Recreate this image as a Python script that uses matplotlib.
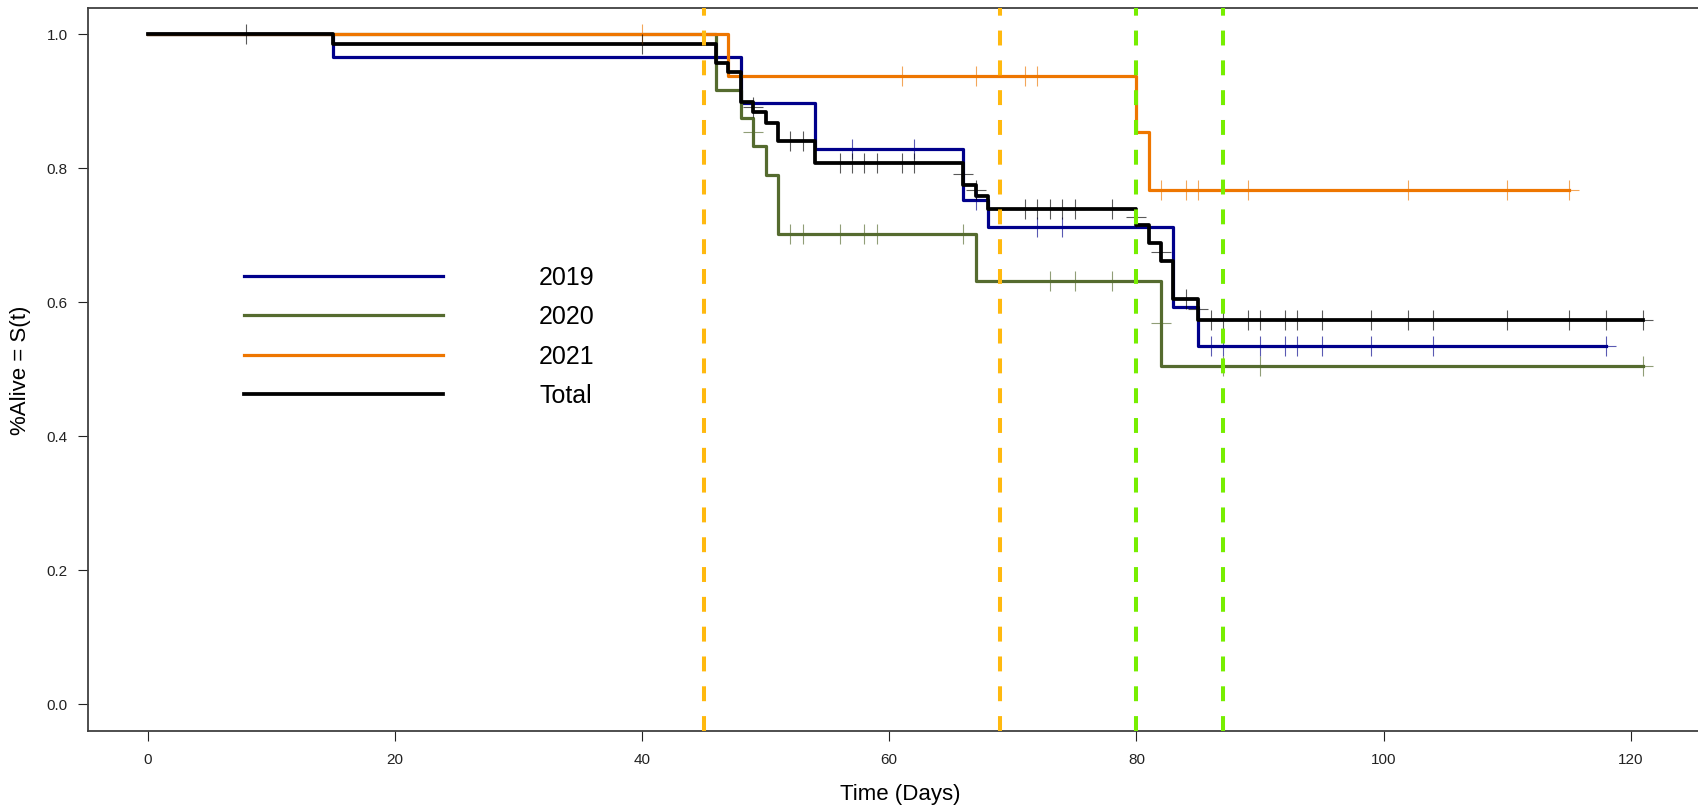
import numpy as np
import matplotlib
matplotlib.use("Agg")
import matplotlib.pyplot as plt

plt.rcParams['font.family'] = ['Liberation Sans', 'DejaVu Sans']

# Kaplan-Meier steps per group: event times, survival after each event, last follow-up
t_2019 = [0, 15, 48, 54, 66, 68, 83, 85]
s_2019 = [1.0, 0.966, 0.897, 0.828, 0.753, 0.712, 0.593, 0.534]
end_2019 = 118
cens_2019 = [57, 62, 67, 72, 74, 86, 87, 90, 92, 93, 95, 99, 104, 118]

t_2020 = [0, 46, 48, 49, 50, 51, 67, 82]
s_2020 = [1.0, 0.917, 0.875, 0.833, 0.790, 0.702, 0.632, 0.505]
end_2020 = 121
cens_2020 = [49, 52, 53, 56, 58, 59, 66, 73, 75, 78, 82, 87, 90, 121]

t_2021 = [0, 47, 80, 81]
s_2021 = [1.0, 0.9375, 0.854, 0.767]
end_2021 = 115
cens_2021 = [40, 61, 67, 71, 72, 82, 84, 85, 89, 102, 110, 115]

t_total = [0, 15, 46, 47, 48, 49, 50, 51, 54, 66, 67, 68, 80, 81, 82, 83, 85]
s_total = [1.0, 0.985, 0.957, 0.943, 0.899, 0.884, 0.868, 0.840, 0.808, 0.775,
           0.759, 0.739, 0.715, 0.689, 0.662, 0.605, 0.574]
end_total = 121
cens_total = [8, 40, 49, 52, 53, 56, 57, 58, 59, 61, 62, 66, 67, 71, 72, 73, 74,
              75, 78, 80, 82, 84, 85, 86, 87, 89, 90, 92, 93, 95, 99, 102, 104,
              110, 115, 118, 121]

labels = ["2019", "2020", "2021", "Total"]
cols = ["#00008B", "#556B2F", "#EE7600", "#000000"]

# period markers
vl_dry = [45, 69]
vl_wet = [80, 87]


def censor_y(t, s, ct):
    # censored at an event time -> mark sits halfway down the drop
    t = np.asarray(t); s = np.asarray(s)
    out = []
    for c in ct:
        i = np.searchsorted(t, c, side="right") - 1
        if t[i] == c and i > 0:
            out.append((s[i] + s[i - 1]) / 2)
        else:
            out.append(s[i])
    return out


fig = plt.figure(figsize=(16.98, 8.07), dpi=100)
ax = fig.add_axes([87.7 / 1698, (807 - 730.8) / 807, (1703 - 87.7) / 1698, (730.8 - 7.5) / 807])

groups = [(t_2019, s_2019, end_2019, cens_2019),
          (t_2020, s_2020, end_2020, cens_2020),
          (t_2021, s_2021, end_2021, cens_2021),
          (t_total, s_total, end_total, cens_total)]

handles = []
for (t, s, e, c), col, lab in zip(groups, cols, labels):
    x = list(t) + [e]
    y = list(s) + [s[-1]]
    lw = 2.7 if lab == "Total" else 2.3
    h, = ax.step(x, y, where="post", color=col, lw=lw, label=lab, zorder=3)
    handles.append(h)
    ax.plot(c, censor_y(t, s, c), ls="none", marker="+", ms=15, mew=0.8,
            color=col, alpha=0.65, zorder=4)

for v in vl_dry:
    ax.axvline(v, color="#FFB90F", lw=2.9, dashes=(3.7, 3.7), zorder=5)
for v in vl_wet:
    ax.axvline(v, color="#76EE00", lw=2.9, dashes=(3.7, 3.7), zorder=5)

ax.set_xlim(-4.84, 125.84)
ax.set_ylim(-0.04, 1.04)
ax.set_xticks(np.arange(0, 121, 20))
ax.set_yticks(np.arange(0, 1.01, 0.2))
ax.set_yticklabels(["0.0", "0.2", "0.4", "0.6", "0.8", "1.0"])
ax.tick_params(axis="both", labelsize=11, length=7.2, width=0.8, colors="#222222")
ax.tick_params(axis="y", pad=7.2)
ax.tick_params(axis="x", pad=8.6)
for sp in ax.spines.values():
    sp.set_color("#404040")
    sp.set_linewidth(1.3)

ax.set_xlabel("Time (Days)", fontsize=16)
ax.set_ylabel("%Alive = S(t)", fontsize=16)
ax.xaxis.set_label_coords(0.503, -0.0736)
ax.yaxis.set_label_coords(-0.0351, 0.499)

ax.legend(handles=handles, loc="upper left", bbox_to_anchor=(0.0968, 0.643),
          frameon=False, fontsize=18, handlelength=7.95, handletextpad=3.85,
          labelspacing=0.62, borderpad=0, borderaxespad=0)

fig.savefig("out.png", dpi=100)
